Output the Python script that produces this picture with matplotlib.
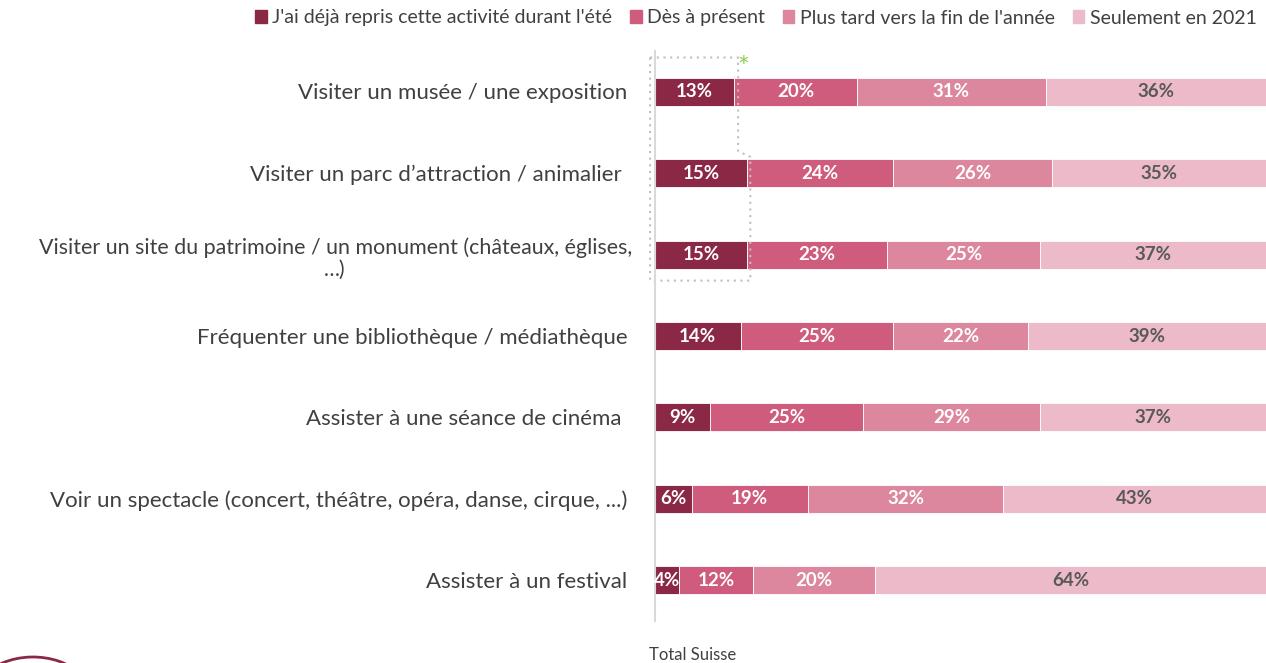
import matplotlib.pyplot as plt
from matplotlib.patches import Arc

plt.rcParams['font.family'] = ['Lato', 'DejaVu Sans']

categories = [
    "Visiter un musée / une exposition",
    "Visiter un parc d\u2019attraction / animalier ",
    "Visiter un site du patrimoine / un monument (châteaux, églises,\n\u2026)",
    "Fréquenter une bibliothèque / médiathèque",
    "Assister à une séance de cinéma ",
    "Voir un spectacle (concert, théâtre, opéra, danse, cirque, ...)",
    "Assister à un festival",
]
series = ["J'ai déjà repris cette activité durant l'été", "Dès à présent",
          "Plus tard vers la fin de l'année", "Seulement en 2021"]
deja = [13, 15, 15, 14, 9, 6, 4]
present = [20, 24, 23, 25, 25, 19, 12]
plus_tard = [31, 26, 25, 22, 29, 32, 20]
en_2021 = [36, 35, 37, 39, 37, 43, 64]

colors = ['#8B2846', '#CF5C7C', '#DC879E', '#ECBAC8']
text_colors = ['white', 'white', 'white', '#595959']

fig = plt.figure(figsize=(12.66, 6.63), dpi=100)
ax = fig.add_axes([655 / 1266, 1 - 621 / 663, 611 / 1266, 570 / 663])

y = list(range(len(categories)))
left = [0] * len(categories)
for vals, name, c, tc in zip([deja, present, plus_tard, en_2021], series, colors, text_colors):
    ax.barh(y, vals, left=left, height=0.345, color=c, label=name,
            edgecolor='white', linewidth=0.6)
    for yi, l, v in zip(y, left, vals):
        ax.text(l + v / 2, yi, f"{v}%", ha='center', va='center',
                color=tc, fontsize=13.5, fontweight='bold')
    left = [a + b for a, b in zip(left, vals)]

ax.set_xlim(0, 100)
ax.set_ylim(6.5, -0.5)
ax.set_xticks([])
ax.set_yticks([])
for s in ['top', 'right', 'bottom']:
    ax.spines[s].set_visible(False)
ax.spines['left'].set_color('#D9D9D9')
ax.spines['left'].set_linewidth(1.5)

for yi, cat in zip(y, categories):
    ax.text(-4.5 if '\n' not in cat else -3.8, yi + (0.05 if '\n' in cat else 0.02), cat,
            ha='right', va='center', fontsize=16 if '\n' not in cat else 15.4,
            color='#404040', multialignment='center', linespacing=1.1)

# dotted highlight around the first three "déjà" segments
bx = [-0.8, 13.6, 13.6, 15.6, 15.6, -0.8, -0.8]
by = [-0.42, -0.42, 0.73, 0.8, 2.32, 2.32, -0.42]
ax.plot(bx, by, color='#BFBFBF', linestyle=(0, (1, 2.2)), linewidth=1.5, clip_on=False)
ax.text(14.4, -0.28, '*', color='#92D050', fontsize=20, ha='center', va='center', clip_on=False)

handles = [plt.Rectangle((0, 0), 1, 1, color=c) for c in colors]
fig.legend(handles, series, loc='center', bbox_to_anchor=(756 / 1266, 1 - 18 / 663),
           ncol=4, frameon=False, fontsize=14, handlelength=0.6, handleheight=0.6,
           handletextpad=0.3, columnspacing=0.9, labelcolor='#404040')

fig.text(693 / 1266, 1 - 655 / 663, 'Total Suisse', ha='center', va='center',
         fontsize=12, color='#404040')

# logo fragment bottom-left
fig.add_artist(Arc((33 / 1266, 1 - 700 / 663), 120 / 1266, 86 / 663, theta1=45, theta2=140,
                   transform=fig.transFigure, color='#8B2846', linewidth=2))

fig.savefig('out.png', dpi=100)
